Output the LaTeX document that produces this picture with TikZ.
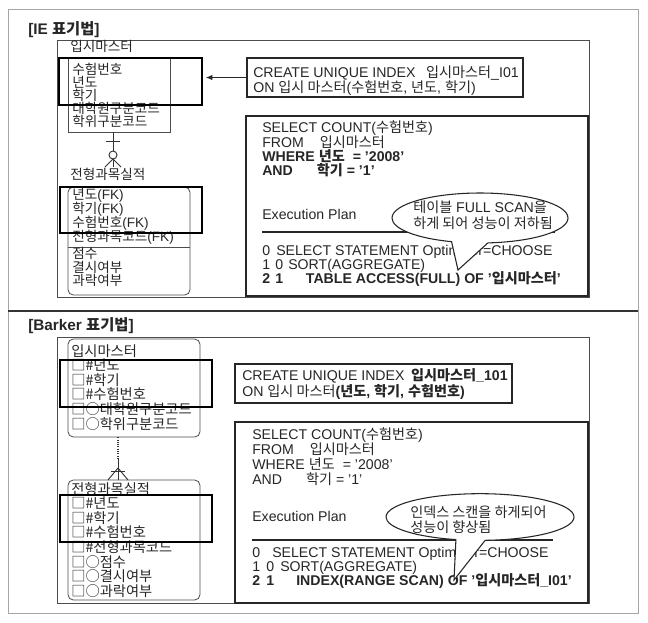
\documentclass[tikz,border=0pt]{standalone}
\usepackage{fontspec}
\setmainfont{Liberation Sans}
\newfontfamily\krfont{Noto Sans CJK KR}[Scale=1.0]
\newfontfamily\krent{Noto Sans CJK KR}
\newcommand\hg[1]{{\krfont #1}}
\usetikzlibrary{shapes.callouts, arrows.meta, fit}
\tikzset{
  ln/.style={anchor=base west, inner sep=0pt, font=\fontsize{10.6}{12}\selectfont, text=black!85},
  kr/.style={anchor=base west, inner sep=0pt, text=black!85, font=\fontsize{10.2}{12}\selectfont\krent},
  krb/.style={anchor=base west, inner sep=0pt, text=black!85, font=\fontsize{10.7}{12}\selectfont\krent},
  fk/.style={anchor=base west, inner sep=0pt, text=black!85, font=\fontsize{10.2}{12}\selectfont},
  ttl/.style={anchor=base west, inner sep=0pt, font=\fontsize{11.5}{13}\selectfont\bfseries, text=black!85},
  panel/.style={draw=black!70, line width=0.6pt, inner sep=0pt},
  entbox/.style={draw=black!70, line width=0.6pt, inner sep=0pt},
  rentbox/.style={entbox, rounded corners=4pt},
  hl/.style={draw=black, line width=1.5pt, inner sep=0pt},
  cbox/.style={draw=black!85, line width=1pt, inner sep=0pt, fill=white},
  sqlbox/.style={draw=black!85, line width=1.3pt, inner sep=0pt, fill=white},
  bubble/.style={ellipse callout, draw=black!85, line width=0.8pt, fill=white, inner sep=0pt},
  rel/.style={draw=black!80, line width=0.7pt},
}
\begin{document}
\begin{tikzpicture}[x=0.75pt, y=-0.75pt]
\useasboundingbox (0,0) rectangle (648,622);
% outer frame and divider
\draw[gray!70, line width=0.6pt] (8,9) rectangle (638,613);
\draw[black!80, line width=0.9pt] (8,311) -- (638,311);

% ================= IE section =================
\node[ttl] (t1) at (28,34) {[IE \hg{표기법}]};
\node[panel, fit={(57,40) (589,297)}] (p1) {};
\node[kr] (e1lbl) at (70,51) {입시마스터};
\node[entbox, fit={(68,57) (170,132)}] (ent1) {};
\foreach \t [count=\i] in {수험번호,년도,학기,대학원구분코드,학위구분코드}
  \node[kr] (e1t\i) at (72,61+13*\i) {\t};
\node[hl, fit={(59,58) (202,105)}] (hl1) {};

% relationship IE
\coordinate (r1b) at (113,167);
\draw[rel] (ent1.south -| r1b) -- (r1b);
\draw[rel] (106,141) -- (120,141);
\draw[rel, fill=white] (113,155) circle (3pt);
\draw[rel] (113,159) -- (105,167);
\draw[rel] (113,159) -- (121,167);

\node[kr] (c1lbl) at (70,179) {전형과목실적};
\node[rentbox, fit={(68,187) (190,295)}] (child1) {};
\draw[entbox] (child1.west |- 0,247) -- (child1.east |- 0,247);
\foreach \t [count=\i] in {{\krent 년도}(FK),{\krent 학기}(FK),{\krent 수험번호}(FK),{\krent 전형과목코드}(FK)}
  \node[fk] (c1t\i) at (72,185+14*\i) {\t};
\foreach \t [count=\i] in {점수,결시여부,과락여부}
  \node[kr] (c1u\i) at (72,245+13.5*\i) {\t};
\node[hl, fit={(60,187) (202,233)}] (hl1b) {};

% CREATE box IE
\node[cbox, fit={(247,58) (523,97)}] (cr1) {};
\node[ln] (cr1a) at (253,77) {CREATE UNIQUE INDEX\hspace{8pt}\hg{입시마스터}\_I01};
\node[ln] (cr1b) at (253,92) {ON \hg{입시 마스터}(\hg{수험번호}, \hg{년도}, \hg{학기})};
\draw[-{Latex[length=5pt,width=4pt]}, line width=0.8pt, black!85, shorten >=2pt] (cr1.west) -- (cr1.west -| hl1.east);

% SQL box IE
\node[sqlbox, fit={(246,116) (588,296)}] (sq1) {};
\node[ln] (s1a) at (262,132) {SELECT COUNT(\hg{수험번호})};
\node[ln] (s1b) at (262,147) {FROM\hspace{12pt}\hg{입시마스터}};
\node[ln] (s1c) at (262,161) {\bfseries WHERE \hg{년도}\hspace{6pt}= '2008'};
\node[ln] (s1d) at (262,175) {\bfseries AND\hspace{18pt}\hg{학기} = '1'};
\node[ln] (s1e) at (262,219) {Execution Plan};
\draw[black!85, line width=1pt] (262,232) -- (555,232);
\node[ln] (s1f) at (262,255) {\makebox[10.5pt][l]{0}SELECT STATEMENT Optimizer=CHOOSE};
\node[ln] (s1g) at (262,269) {\makebox[9.75pt][l]{1}\makebox[9.75pt][l]{0}SORT(AGGREGATE)};
\node[ln] (s1h) at (262,283) {\bfseries\makebox[9.75pt][l]{2}\makebox[23pt][l]{1}TABLE ACCESS(FULL) OF '\hg{입시마스터}'};
\node[bubble, minimum width=132pt, minimum height=37.5pt, callout pointer arc=24, callout absolute pointer={(458,270)}] (call1) at (480,218) {};
\node[ln] (call1a) at (413,212.5) {\hg{테이블} FULL SCAN\hg{을}};
\node[ln] (call1b) at (413,228) {\hg{하게 되어 성능이 저하됨}};

% ================= Barker section =================
\node[ttl] (t2) at (28,330) {[Barker \hg{표기법}]};
\node[panel, fit={(57,337) (589,603)}] (p2) {};
\node[rentbox, fit={(68,339) (200,437)}] (ent2) {};
\foreach \t [count=\i] in {입시마스터,□\#년도,□\#학기,□\#수험번호,□○대학원구분코드,□○학위구분코드}
  \node[krb] (e2t\i) at (71,341.4+14.6*\i) {\t};
\node[hl, fit={(60,360) (212,407)}] (hl2) {};

% relationship Barker
\coordinate (r2m) at (118,458);
\draw[rel, densely dotted, line width=0.9pt] (ent2.south -| r2m) -- (r2m);
\node[rentbox, fit={(68,480) (200,600)}] (child2) {};
\draw[rel] (r2m) -- (child2.north -| r2m);
\draw[rel] (111,471) -- (125,471);
\draw[rel] (118,468) -- (108,480);
\draw[rel] (118,468) -- (128,480);
\foreach \t [count=\i] in {전형과목실적,□\#년도,□\#학기,□\#수험번호,□\#전형과목코드,□○점수,□○결시여부,□○과락여부}
  \node[krb] (c2t\i) at (71,479.4+14.6*\i) {\t};
\node[hl, fit={(60,495) (212,542)}] (hl2b) {};

% CREATE box Barker
\node[cbox, fit={(235,364) (512,403)}] (cr2) {};
\node[ln] (cr2a) at (242,380) {CREATE UNIQUE INDEX\hspace{5pt}\textbf{\hg{입시마스터}\_101}};
\node[ln] (cr2b) at (242,396) {ON \hg{입시 마스터}\textbf{(\hg{년도}, \hg{학기}, \hg{수험번호})}};

% SQL box Barker
\node[sqlbox, fit={(235,422) (588,603)}] (sq2) {};
\node[ln] (s2a) at (252,439) {SELECT COUNT(\hg{수험번호})};
\node[ln] (s2b) at (252,454) {FROM\hspace{12pt}\hg{입시마스터}};
\node[ln] (s2c) at (252,469) {WHERE \hg{년도}\hspace{6pt}= '2008'};
\node[ln] (s2d) at (252,484) {AND\hspace{18pt}\hg{학기} = '1'};
\node[ln] (s2e) at (252,521) {Execution Plan};
\draw[black!85, line width=1pt] (252,540) -- (553,540);
\node[ln] (s2f) at (252,557) {\makebox[15pt][l]{0}SELECT STATEMENT Optimizer=CHOOSE};
\node[ln] (s2g) at (252,571) {\makebox[10.5pt][l]{1}\makebox[10.5pt][l]{0}SORT(AGGREGATE)};
\node[ln] (s2h) at (252,585) {\bfseries\makebox[10.5pt][l]{2}\makebox[22.5pt][l]{1}INDEX(RANGE SCAN) OF '\hg{입시마스터}\_I01'};
\node[bubble, minimum width=141pt, minimum height=35pt, callout pointer arc=18, callout absolute pointer={(454,580)}] (call2) at (480,517) {};
\node[ln] (call2a) at (410,517) {\hg{인덱스 스캔을 하게되어}};
\node[ln] (call2b) at (410,532) {\hg{성능이 향상됨}};
\end{tikzpicture}
\end{document}
